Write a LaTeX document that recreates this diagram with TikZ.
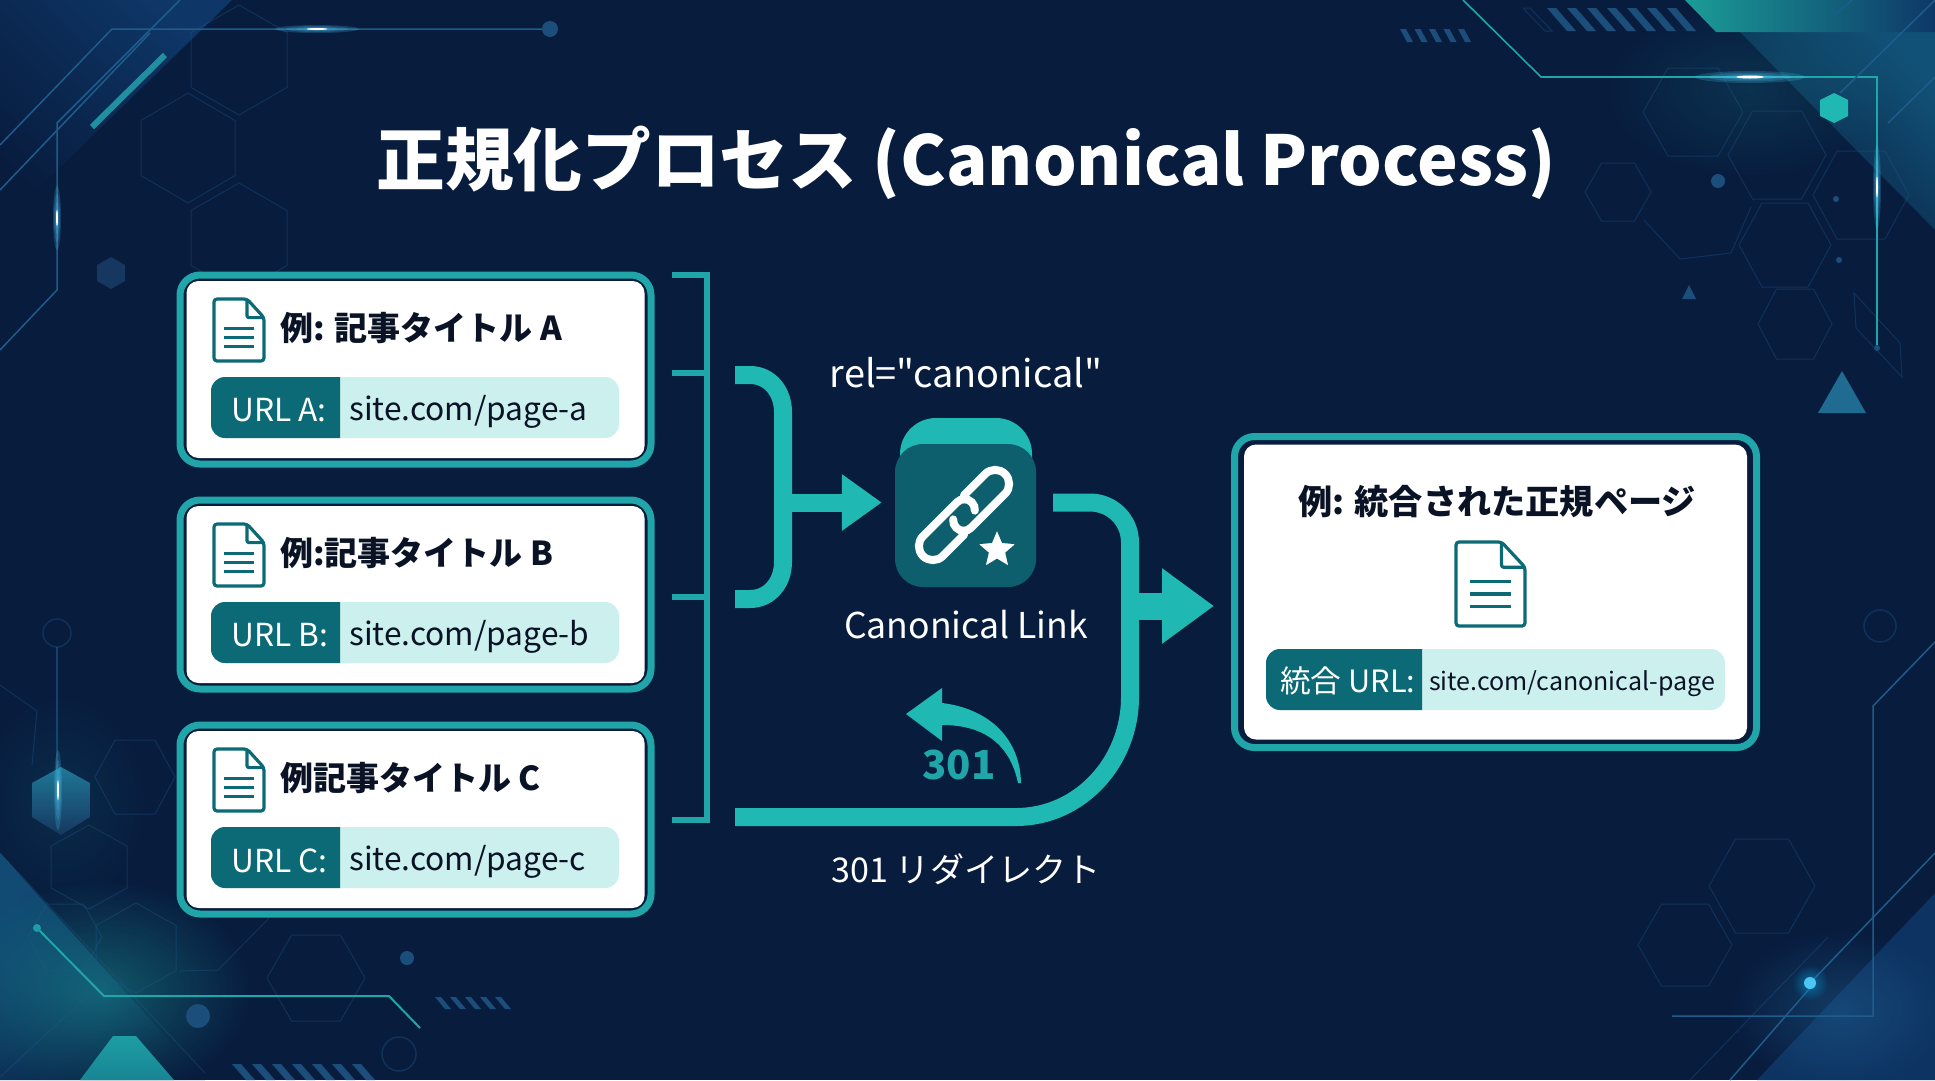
\documentclass[tikz,border=0pt]{standalone}
\usepackage{fontspec}
\setmainfont{Noto Sans CJK JP}
\newfontfamily\plainquote{Noto Sans CJK JP}
\usetikzlibrary{arrows.meta,fadings,shapes.geometric}

\definecolor{bgnavy}{HTML}{081C3E}
\definecolor{bandblue}{HTML}{0E3768}
\definecolor{traceblue}{HTML}{1F5C8C}
\definecolor{hexblue}{HTML}{16375F}
\definecolor{dotblue}{HTML}{1C4E7C}
\definecolor{flowteal}{HTML}{1FB8B2}
\definecolor{cardteal}{HTML}{20A6A8}
\definecolor{bardark}{HTML}{0B6A76}
\definecolor{barlight}{HTML}{CBF0EE}
\definecolor{icondark}{HTML}{0E5F6E}
\definecolor{inkdark}{HTML}{0A1226}

\tikzfading[name=glowfade, inner color=transparent!0, outer color=transparent!100]

\tikzset{
  cardouter/.style={draw=cardteal, line width=7pt, fill=bgnavy, rounded corners=20pt, inner sep=0pt},
  cardinner/.style={fill=white, rounded corners=12pt, inner sep=0pt},
  cardtitle/.style={anchor=west, text=inkdark, font=\fontsize{33}{38}\selectfont\bfseries, inner sep=0pt},
  barlabel/.style={anchor=west, text=white, font=\fontsize{31.7}{36}\selectfont, inner sep=0pt},
  barurl/.style={anchor=west, text=inkdark, font=\fontsize{31.7}{36}\selectfont, inner sep=0pt},
  flowlabel/.style={text=white, font=\fontsize{35.6}{40}\selectfont, inner sep=0pt},
  bracketline/.style={draw=cardteal, line width=6pt},
  flowline/.style={draw=flowteal, line width=18pt},
  hexline/.style={draw=traceblue, line width=1pt, opacity=0.35},
  traceline/.style={draw=traceblue, line width=1.5pt},
  tealtrace/.style={draw=flowteal!80!traceblue, line width=2pt},
  docline/.style={draw=bardark, line width=3.2pt, line join=round},
  linkline/.style={draw=white, line width=8pt, line cap=round},
}

% one page icon, #1 = top left, #2 = width, #3 = height
\newcommand{\docicon}[3]{
  \begin{scope}[shift={#1}, x=#2*1pt, y=-#3*1pt]
    \draw[docline, rounded corners=3pt] (0.66,0) -- (0,0) -- (0,1) -- (1,1) -- (1,0.3) -- cycle;
    \draw[docline, rounded corners=2pt] (0.66,0) -- (0.66,0.3) -- (1,0.3);
    \foreach \yy in {0.47,0.62,0.77} \draw[docline] (0.2,\yy) -- (0.8,\yy);
  \end{scope}
}
% soft light streak
\newcommand{\glowspot}[3]{
  \foreach \k in {1,0.75,0.5,0.32,0.18}
    \fill[cyan!70!white, opacity=0.2] #1 ellipse[x radius=#2*\k, y radius=#3*\k];
  \fill[white] #1 ellipse[x radius=#2*0.25, y radius=#3*0.25];
}

\begin{document}
\begin{tikzpicture}[x=1pt, y=-1pt]
  \useasboundingbox (0,0) rectangle (1935,1080);
  \clip (0,0) rectangle (1935,1080);

  % Background
  \fill[bgnavy] (0,0) rectangle (1935,1080);
  \shade[left color=bandblue, right color=bgnavy, shading angle=-45] (0,0) -- (232,0) -- (0,226) -- cycle;
  \shade[left color=bandblue!85!flowteal, right color=bgnavy, shading angle=45] (0,853) -- (205,1080) -- (0,1080) -- cycle;
  \fill[bandblue!85!bgnavy] (1757,1080) -- (1935,893) -- (1935,1080) -- cycle;
  \shade[left color=bgnavy, right color=bandblue!80!flowteal, shading angle=135] (1740,32) -- (1935,32) -- (1935,230) -- cycle;
  \fill[flowteal, opacity=0.38, path fading=glowfade] (102,990) ellipse[x radius=150, y radius=110];
  \fill[flowteal, opacity=0.1, path fading=glowfade] (61,800) ellipse[x radius=90, y radius=110];
  \fill[flowteal, opacity=0.14, path fading=glowfade] (1750,90) ellipse[x radius=150, y radius=90];
  \fill[traceblue, opacity=0.5, path fading=glowfade] (1840,1010) ellipse[x radius=110, y radius=80];

  % Top right teal block
  \shade[left color=flowteal!85!black, right color=bandblue] (1685,0) -- (1935,0) -- (1935,32) -- (1716,32) -- cycle;

  % Hexagon outlines, flat top
  \foreach \cx/\cy/\hx/\hy in {1693/112/50/44, 1777/155/49/44, 1618/192/33/29, 1861/195/48/44,
      1785/245/46/42, 1795/324/37/35, 1762/886/53/47, 1685/945/47/41, 316/978/49/43, 135/777/40/37, 65/937/37/33}
    \draw[hexline] ({\cx-\hx},\cy) -- ({\cx-\hx/2},{\cy-\hy}) -- ({\cx+\hx/2},{\cy-\hy}) -- ({\cx+\hx},\cy)
      -- ({\cx+\hx/2},{\cy+\hy}) -- ({\cx-\hx/2},{\cy+\hy}) -- cycle;
  % Hexagon outlines, pointy top
  \foreach \cx/\cy/\hx/\hy in {239/60/48/55, 188/148/47/55, 239/238/48/55, 136/948/40/45, 89/867/38/42}
    \draw[hexline] (\cx,{\cy-\hy}) -- ({\cx+\hx},{\cy-\hy/2}) -- ({\cx+\hx},{\cy+\hy/2}) -- (\cx,{\cy+\hy})
      -- ({\cx-\hx},{\cy+\hy/2}) -- ({\cx-\hx},{\cy-\hy/2}) -- cycle;
  \draw[hexline] (1644,220) -- (1680,259) -- (1731,253) -- (1751,207);
  \draw[hexline] (179,971) -- (218,970) -- (270,917);
  \draw[hexline] (0,685) -- (37,711) -- (32,765);
  \draw[hexline] (0,853) -- (205,1073);
  \draw[hexline] (0,1077) -- (96,988);
  \draw[hexline] (1854,293) -- (1900,343) -- (1902,377) -- (1856,328) -- cycle;
  \draw[hexline] (1523,8) -- (1530,8) -- (1552,31) -- (1545,31) -- cycle;

  % Traces
  \draw[traceline] (0,145) -- (112,29) -- (543,29);
  \draw[traceline] (180,0) -- (57,123) -- (57,290) -- (0,350);
  \draw[traceline] (0,190) -- (150,33);
  \draw[traceline, line width=6pt, draw=cardteal!70!traceblue] (165,55) -- (92,127);
  \draw[tealtrace, line width=1.6pt] (1463,0) -- (1541,77) -- (1877,77) -- (1877,348);
  \draw[traceline] (1835,15) -- (1852,0);
  \draw[traceline] (1840,93) -- (1935,0);
  \draw[traceline] (1888,123) -- (1935,77);
  \draw[tealtrace] (37,928) -- (104,996) -- (389,996) -- (420,1028);
  \draw[traceline] (1935,642) -- (1873,706) -- (1873,1016) -- (1672,1016);
  \draw[traceline] (1810,983) -- (1935,853);
  \draw[traceline] (1730,1080) -- (1810,988);
  \draw[hexline] (1690,1080) -- (1828,937);
  \draw[traceline, opacity=0.6] (57,647) -- (57,830);

  % Small shapes
  \draw[hexline, line width=1.5pt] (57,633) circle[radius=14];
  \draw[hexline, line width=1.5pt] (399,1054) circle[radius=17];
  \draw[hexline, line width=1.5pt] (1880,626) circle[radius=16];
  \foreach \cx/\cy/\rr in {550/29/8, 1718/181/7, 1836/199/3, 1839/260/3, 198/1016/12, 407/958/7, 1877/348/3}
    \fill[dotblue] (\cx,\cy) circle[radius=\rr];
  \fill[flowteal!70!traceblue] (37,928) circle[radius=4];
  \fill[hexblue] (111,257) -- (125,265) -- (125,281) -- (111,289) -- (97,281) -- (97,265) -- cycle;
  \fill[flowteal] (1834,93) -- (1848,100) -- (1848,116) -- (1834,123) -- (1820,116) -- (1820,100) -- cycle;
  \shade[top color=traceblue!70!flowteal, bottom color=hexblue] (61,767) -- (90,783) -- (90,817) -- (61,835) -- (32,817) -- (32,783) -- cycle;
  \fill[dotblue] (1689,285) -- (1696,299) -- (1682,299) -- cycle;
  \fill[traceblue!80!cardteal] (1842,371) -- (1866,413) -- (1818,413) -- cycle;
  \shade[bottom color=flowteal!60!bandblue, top color=flowteal!80!bandblue] (113,1036) -- (136,1036) -- (174,1080) -- (80,1080) -- cycle;

  % Hatch marks
  \foreach \hx/\hy/\hh/\hlean/\hw/\hp/\hn in {1547/8/23/20/9/20/7, 1400/29/13/7/6/14.5/5, 435/997/12/10/6/15/5, 232/1064/16/14/9/20/7}
    \foreach \i in {1,...,\hn}
      \fill[dotblue] ({\hx+(\i-1)*\hp},\hy) -- ++(\hw,0) -- ++(\hlean,\hh) -- ++(-\hw,0) -- cycle;

  % Light streaks
  \glowspot{(317,29)}{42}{4}
  \glowspot{(57,218)}{4}{32}
  \glowspot{(1750,77)}{55}{6}
  \glowspot{(1877,187)}{4}{42}
  \glowspot{(58,790)}{4}{40}
  \fill[cyan, opacity=0.5, path fading=glowfade] (1810,983) circle[radius=18];
  \fill[cyan!70!white] (1810,983) circle[radius=6];

  % Title
  \node[text=white, font=\fontsize{68.7}{74}\selectfont\bfseries, inner sep=0pt] (maintitle) at (966,163)
    {正規化プロセス (Canonical Process)};

  % Source cards
  \foreach \nm/\cy/\ttl/\lbl/\urltxt in {a/369.5/{例: 記事タイトル A}/{URL A:}/{site.com/page-a},
      b/594.5/{例:記事タイトル B}/{URL B:}/{site.com/page-b}, c/819.5/{例記事タイトル C}/{URL C:}/{site.com/page-c}} {
    \node[cardouter, minimum width=471pt, minimum height=189pt] (card\nm) at (415.5,\cy) {};
    \node[cardinner, minimum width=458pt, minimum height=177pt] (in\nm) at (card\nm) {};
    \docicon{(214,\cy-70.5)}{50}{62}
    \node[cardtitle] (title\nm) at (280,\cy-41.5) {\ttl};
    \fill[barlight, rounded corners=14pt] (211,\cy+7.5) rectangle (619,\cy+68.5);
    \fill[bardark] (340,\cy+7.5) -- (225,\cy+7.5) [rounded corners=14pt] -- (211,\cy+7.5) -- (211,\cy+68.5) [sharp corners] -- (340,\cy+68.5) -- cycle;
    \node[barlabel] (label\nm) at (231,\cy+41) {\lbl};
    \node[barurl] (url\nm) at (349,\cy+42) {\urltxt};
  }

  % Bracket behind the cards
  \coordinate (brackettop) at (672,275);
  \coordinate (bracketlow) at (672,820);
  \coordinate (tickab) at (672,373);
  \coordinate (tickbc) at (672,597);
  \draw[bracketline] (brackettop) -- (707,275) -- (707,820) -- (bracketlow);
  \draw[bracketline] (tickab) -- (707,373);
  \draw[bracketline] (tickbc) -- (707,597);

  % Canonical link icon
  \fill[flowteal, rounded corners=36pt] (900,418) rectangle (1032,500);
  \node[fill=icondark, rounded corners=28pt, minimum width=141pt, minimum height=143pt, inner sep=0pt] (linkicon) at (965.5,515.5) {};
  \foreach \turn in {45,225} {
    \begin{scope}[shift={(964,515)}, rotate=\turn]
      \draw[linkline] (14,-14) -- (44,-14) arc[start angle=-90, end angle=90, radius=14] -- (-4,14) arc[start angle=90, end angle=230, radius=10.5];
    \end{scope}
  }
  \node[star, star points=5, star point ratio=2.2, fill=white, draw=icondark, line width=1.5pt, minimum size=42pt, inner sep=0pt] (linkstar) at (997,550) {};

  \node[flowlabel, font=\fontsize{37.9}{42}\selectfont\plainquote] (rellabel) at (966,373) {rel="canonical"};
  \node[flowlabel] (linklabel) at (966,625) {Canonical Link};
  \node[flowlabel, font=\fontsize{34.1}{40}\selectfont] (redirlabel) at (966,869) {301 リダイレクト};

  % Final card
  \node[cardouter, minimum width=522pt, minimum height=311pt] (cardfinal) at (1495.5,592) {};
  \node[cardinner, minimum width=503pt, minimum height=295pt] (infinal) at (cardfinal) {};
  \node[text=inkdark, font=\fontsize{34.2}{40}\selectfont\bfseries, inner sep=0pt] (titlefinal) at (1497,502) {例: 統合された正規ページ};
  \docicon{(1456,542)}{69}{84}
  \fill[barlight, rounded corners=14pt] (1266,649) rectangle (1725,710);
  \fill[bardark] (1422,649) -- (1280,649) [rounded corners=14pt] -- (1266,649) -- (1266,710) [sharp corners] -- (1422,710) -- cycle;
  \node[barlabel, font=\fontsize{30.7}{36}\selectfont] (labelfinal) at (1280,681) {統合 URL:};
  \node[barurl, font=\fontsize{25}{30}\selectfont] (urlfinal) at (1429,683.5) {site.com/canonical-page};

  % Flow arrows
  \coordinate (bracein) at (735,375);
  \coordinate (braceout) at (735,599);
  \coordinate (bracemid) at (783,502.5);
  \coordinate (linkout) at (1053,502.5);
  \coordinate (redirin) at (735,817);
  \coordinate (mergeout) at (1130,606);
  \draw[flowline] (bracein) -- (750,375) .. controls (770,375) and (783,392) .. (783,412) -- (783,562)
    .. controls (783,582) and (770,599) .. (750,599) -- (braceout);
  \draw[flowline, -{Triangle[length=40pt,width=54pt]}, shorten >=13pt] (bracemid) -- (bracemid -| linkicon.west);
  \draw[flowline] (linkout) -- (1090,502.5) .. controls (1112,502.5) and (1130,520) .. (1130,542.5)
    -- (1130,697) .. controls (1130,762) and (1080,817) .. (1016,817) -- (redirin);
  \draw[flowline, line width=27pt, -{Triangle[length=52pt,width=72pt]}, shorten >=17pt] (mergeout) -- (mergeout -| cardfinal.west);

  % Small 301 arrow
  \fill[flowteal] (906,714) -- (942,688) -- (942,703) .. controls (985,708) and (1020,735) .. (1021,783)
    -- (1018,783) .. controls (1010,745) and (985,725) .. (942,725) -- (942,741) -- cycle;
  \node[text=cardteal, font=\fontsize{40}{44}\selectfont\bfseries, inner sep=0pt] (redircode) at (959,765) {301};
\end{tikzpicture}
\end{document}
